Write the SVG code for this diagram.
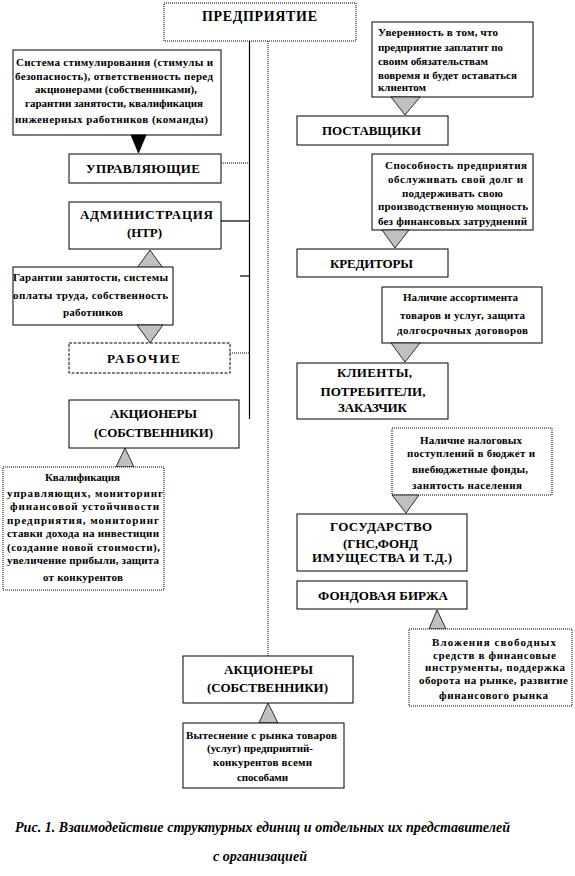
<svg xmlns="http://www.w3.org/2000/svg" width="575" height="876" viewBox="0 0 575 876">
<style>
  .bg{fill:#ffffff}
  .box{fill:#ffffff;stroke:#000;stroke-width:1}
  .dotbox{fill:#ffffff;stroke:#000;stroke-width:1;stroke-dasharray:1 1}
  .dashbox{fill:#ffffff;stroke:#000;stroke-width:1;stroke-dasharray:3 1.5}
  .title{font-weight:bold;font-size:13px;fill:#000;text-anchor:middle}
  .body{font-weight:bold;font-size:11px;fill:#000;text-anchor:middle}
  .bodyl{font-weight:bold;font-size:11px;fill:#000;text-anchor:start}
  .cap{font-weight:bold;font-style:italic;font-size:14px;fill:#000;text-anchor:middle}
  .tri{fill:#c0c0c0;stroke:#000;stroke-width:0.8}
  .tri-b{fill:#000;stroke:#000;stroke-width:0.8}
  .solid{stroke:#000;stroke-width:1.2;fill:none}
  .dot{stroke:#000;stroke-width:1;fill:none;stroke-dasharray:1 1}
</style>
<rect class="bg" x="0" y="0" width="575" height="876"/>

<g id="connectors">
  <line class="solid" x1="249.5" y1="41" x2="249.5" y2="419"/>
  <line class="dot" x1="268" y1="41" x2="268" y2="656"/>
  <line class="dot" x1="221" y1="163" x2="249" y2="163"/>
  <line class="solid" x1="221" y1="221" x2="249" y2="221"/>
  <line class="solid" x1="240" y1="276" x2="249" y2="276"/>
  <line class="dot" x1="230" y1="353" x2="249" y2="353"/>
</g>

<g font-family="Liberation Serif, DejaVu Serif, serif">
<g id="enterprise">
  <rect class="dotbox" x="164" y="3" width="192" height="38"/>
  <text class="title" x="259.5" y="21" style="font-size:14px" textLength="115">ПРЕДПРИЯТИЕ</text>
</g>

<g id="note-managers">
  <rect class="box" x="13" y="50" width="208" height="85"/>
  <text class="body" x="114.5" y="66" textLength="197">Система стимулирования (стимулы и</text>
  <text class="body" x="114" y="80" textLength="198">безопасность), ответственность перед</text>
  <text class="body" x="116" y="93" textLength="162">акционерами (собственниками),</text>
  <text class="body" x="114" y="107" textLength="178">гарантии занятости, квалификация</text>
  <text class="body" x="111.5" y="123" textLength="193">инженерных работников (команды)</text>
  <polygon class="tri-b" points="131,135 146,135 138.5,153"/>
</g>

<g id="managers">
  <rect class="box" x="69" y="154" width="152" height="29"/>
  <text class="title" x="143" y="173" textLength="114">УПРАВЛЯЮЩИЕ</text>
</g>

<g id="administration">
  <rect class="box" x="69" y="202" width="152" height="47"/>
  <text class="title" x="146.5" y="219" textLength="133">АДМИНИСТРАЦИЯ</text>
  <text class="title" x="144.5" y="237" textLength="35">(НТР)</text>
</g>

<g id="note-workers">
  <polygon class="tri" points="150,250 137,268 163,268"/>
  <rect class="box" x="13" y="267" width="160" height="58"/>
  <text class="body" x="90.5" y="281" textLength="155">Гарантии занятости, системы</text>
  <text class="body" x="90.5" y="299" textLength="155">оплаты труда, собственность</text>
  <text class="body" x="93" y="316" textLength="60">работников</text>
  <polygon class="tri" points="137,325 163,325 150,343"/>
</g>

<g id="workers">
  <rect class="dashbox" x="69" y="343" width="161" height="30"/>
  <text class="title" x="143.5" y="363" textLength="73">РАБОЧИЕ</text>
</g>

<g id="shareholders-left">
  <rect class="box" x="69" y="400" width="170" height="48"/>
  <text class="title" x="153.5" y="418" textLength="87">АКЦИОНЕРЫ</text>
  <text class="title" x="153.5" y="437" textLength="119">(СОБСТВЕННИКИ)</text>
</g>

<g id="note-shareholders-left">
  <polygon class="tri" points="125,448 116,467 134,467"/>
  <rect class="dotbox" x="3" y="467" width="161" height="123"/>
  <text class="body" x="82.5" y="481" textLength="75">Квалификация</text>
  <text class="body" x="85" y="497" textLength="156">управляющих, мониторинг</text>
  <text class="body" x="84.5" y="510" textLength="149">финансовой устойчивости</text>
  <text class="body" x="83" y="524" textLength="152">предприятия, мониторинг</text>
  <text class="body" x="83" y="537" textLength="152">ставки дохода на инвестиции</text>
  <text class="body" x="83.5" y="551" textLength="153">(создание новой стоимости),</text>
  <text class="body" x="83" y="564" textLength="152">увеличение прибыли, защита</text>
  <text class="body" x="83" y="581" textLength="80">от конкурентов</text>
</g>

<g id="note-suppliers">
  <rect class="box" x="372" y="22" width="161" height="75"/>
  <text class="bodyl" x="378" y="36" textLength="120">Уверенность в том, что</text>
  <text class="bodyl" x="378" y="51" textLength="125">предприятие заплатит по</text>
  <text class="bodyl" x="378" y="65" textLength="110">своим обязательствам</text>
  <text class="bodyl" x="378" y="79" textLength="139">вовремя и будет оставаться</text>
  <text class="bodyl" x="378" y="91">клиентом</text>
  <polygon class="tri" points="391,97 420,97 405,115"/>
</g>

<g id="suppliers">
  <rect class="box" x="297" y="116" width="151" height="29"/>
  <text class="title" x="371.5" y="135" textLength="99">ПОСТАВЩИКИ</text>
</g>

<g id="note-creditors">
  <rect class="box" x="372" y="154" width="161" height="76"/>
  <text class="body" x="456" y="169" textLength="142">Способность предприятия</text>
  <text class="body" x="455.5" y="183" textLength="135">обслуживать свой долг и</text>
  <text class="body" x="452.5" y="197" textLength="101">поддерживать свою</text>
  <text class="body" x="453" y="210" textLength="150">производственную мощность</text>
  <text class="body" x="452.5" y="225" textLength="149">без финансовых затруднений</text>
  <polygon class="tri" points="382,230 409,230 395,248"/>
</g>

<g id="creditors">
  <rect class="box" x="297" y="249" width="151" height="28"/>
  <text class="title" x="371.5" y="268" textLength="83">КРЕДИТОРЫ</text>
</g>

<g id="note-clients">
  <rect class="box" x="382" y="287" width="160" height="56"/>
  <text class="body" x="460.5" y="301" textLength="115">Наличие ассортимента</text>
  <text class="body" x="462.5" y="319" textLength="125">товаров и услуг, защита</text>
  <text class="body" x="462.5" y="334" textLength="131">долгосрочных договоров</text>
  <polygon class="tri" points="391,343 420,343 405,362"/>
</g>

<g id="clients">
  <rect class="box" x="297" y="363" width="151" height="56"/>
  <text class="title" x="374.5" y="377" textLength="75">КЛИЕНТЫ,</text>
  <text class="title" x="373" y="396" textLength="105">ПОТРЕБИТЕЛИ,</text>
  <text class="title" x="372.5" y="412" textLength="69">ЗАКАЗЧИК</text>
</g>

<g id="note-state">
  <rect class="dotbox" x="392" y="428" width="160" height="67"/>
  <text class="body" x="471" y="444" textLength="102">Наличие налоговых</text>
  <text class="body" x="471" y="457" textLength="128">поступлений в бюджет и</text>
  <text class="body" x="470" y="473" textLength="116">внебюджетные фонды,</text>
  <text class="body" x="467" y="489" textLength="110">занятость населения</text>
  <polygon class="tri" points="392,495 419,495 406,513"/>
</g>

<g id="state">
  <rect class="box" x="297" y="514" width="170" height="57"/>
  <text class="title" x="381" y="531" textLength="102">ГОСУДАРСТВО</text>
  <text class="title" x="380.5" y="548" textLength="75">(ГНС,ФОНД</text>
  <text class="title" x="382" y="562" textLength="140">ИМУЩЕСТВА  И Т.Д.)</text>
</g>

<g id="stock-exchange">
  <rect class="box" x="297" y="581" width="170" height="28"/>
  <text class="title" x="383" y="600" textLength="130">ФОНДОВАЯ  БИРЖА</text>
</g>

<g id="note-stock-exchange">
  <polygon class="tri" points="437,610 429,629 446,629"/>
  <rect class="dotbox" x="409" y="629" width="163" height="77"/>
  <text class="body" x="494" y="646" textLength="124">Вложения свободных</text>
  <text class="body" x="494.5" y="659" textLength="123">средств в финансовые</text>
  <text class="body" x="495" y="671" textLength="140">инструменты, поддержка</text>
  <text class="body" x="493.5" y="684" textLength="149">оборота на рынке, развитие</text>
  <text class="body" x="493.5" y="699" textLength="109">финансового рынка</text>
</g>

<g id="shareholders-bottom">
  <rect class="box" x="183" y="656" width="170" height="47"/>
  <text class="title" x="268.5" y="674" textLength="89">АКЦИОНЕРЫ</text>
  <text class="title" x="267.5" y="692" textLength="121">(СОБСТВЕННИКИ)</text>
</g>

<g id="note-shareholders-bottom">
  <polygon class="tri" points="268,703 259,723 278,723"/>
  <rect class="box" x="183" y="723" width="161" height="65"/>
  <text class="body" x="261.5" y="739" textLength="151">Вытеснение  с рынка товаров</text>
  <text class="body" x="260" y="752" textLength="106">(услуг) предприятий-</text>
  <text class="body" x="262.5" y="766" textLength="99">конкурентов всеми</text>
  <text class="body" x="262.5" y="781" textLength="51">способами</text>
</g>

<g id="caption">
  <text class="cap" x="262.5" y="832" textLength="495">Рис. 1. Взаимодействие структурных единиц и отдельных их представителей</text>
  <text class="cap" x="260" y="861" textLength="94">с организацией</text>
</g>
</g>
</svg>
